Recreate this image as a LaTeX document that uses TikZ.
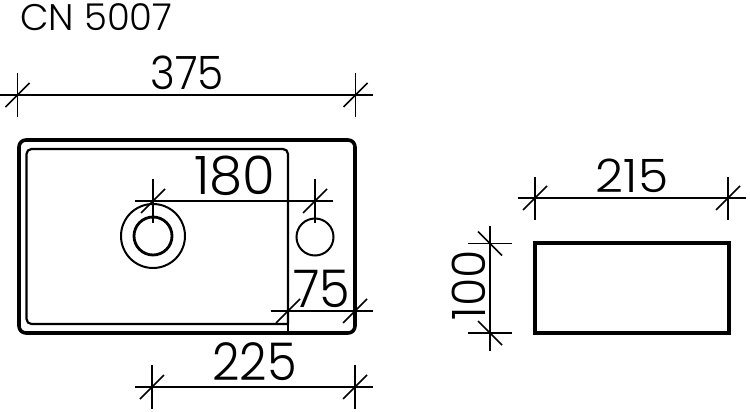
\documentclass[tikz,border=0pt]{standalone}
\usepackage{fontspec}
\setmainfont{Poppins Light}
\newcommand{\dimtext}[3]{\scalebox{#2}[1]{\fontsize{#1}{#1}\selectfont #3}}
\tikzset{
  dim/.style={line width=1.6pt,line cap=butt},
  outerwall/.style={line width=3.6pt,rounded corners=7pt},
  innerwall/.style={line width=2.2pt,rounded corners=5pt},
  lab/.style={inner sep=0pt,anchor=center},
  title/.style={inner sep=0pt,font=\fontsize{37}{37}\selectfont,anchor=west}
}
\begin{document}
\begin{tikzpicture}[x=1pt,y=-1pt]
\useasboundingbox (0,0) rectangle (750,412);
% plan
\node[draw,outerwall,minimum width=336pt,minimum height=193pt,inner sep=0pt] (body) at (187,236.5) {};
\draw[innerwall] (288,324) -- (26.5,324) -- (26.5,149) -- (288,149) -- (288,324);
\coordinate (wallA) at (288,320); \coordinate (wallB) at (288,333);
\draw[line width=2.2pt] (wallA) -- (wallB);
\node[draw,circle,line width=2pt,minimum size=64pt,inner sep=0pt] (drainO) at (153,236) {};
\node[draw,circle,line width=2.8pt,minimum size=38pt,inner sep=0pt] (drainI) at (153,236) {};
\node[draw,circle,line width=2pt,minimum size=37pt,inner sep=0pt] (tap) at (315,237) {};
% side view
\node[draw,line width=3.2pt,minimum width=194pt,minimum height=90pt,inner sep=0pt] (side) at (632,288) {};
% dim 375
\coordinate (a1) at (17.5,95); \coordinate (a2) at (355.5,95);
\draw[dim] (0,95) -- (373,95);
\foreach \c in {a1,a2}{\draw[dim] (\c)+(0,-22)--+(0,22); \draw[dim] (\c)+(-12,12)--+(12,-12);}
\node[lab] (t375) at (187,73) {\dimtext{46}{.92}{375}};
% dim 180
\coordinate (b1) at (153,201); \coordinate (b2) at (315,201);
\draw[dim] (135,201) -- (333,201);
\foreach \c in {b1,b2}{\draw[dim] (\c)+(0,-22)--+(0,22); \draw[dim] (\c)+(-12,12)--+(12,-12);}
\node[lab] (t180) at (235,176) {\dimtext{53}{1}{180}};
% dim 75
\coordinate (c1) at (288,311); \coordinate (c2) at (355,311);
\draw[dim] (270.5,311) -- (373,311);
\foreach \c in {c1,c2}{\draw[dim] (\c)+(-12,12)--+(12,-12);}
\node[lab] (t75) at (321.5,288.5) {\dimtext{52}{.95}{75}};
% dim 225
\coordinate (d1) at (152,387); \coordinate (d2) at (355,387);
\draw[dim] (135,387) -- (373,387);
\foreach \c in {d1,d2}{\draw[dim] (\c)+(0,-22)--+(0,22); \draw[dim] (\c)+(-12,12)--+(12,-12);}
\node[lab] (t225) at (254.5,361.5) {\dimtext{52}{.92}{225}};
% dim 215
\coordinate (e1) at (535,198); \coordinate (e2) at (728,198);
\draw[dim] (518,198) -- (746,198);
\foreach \c in {e1,e2}{\draw[dim] (\c)+(0,-21)--+(0,22); \draw[dim] (\c)+(-12,12)--+(12,-12);}
\node[lab] (t215) at (632,176) {\dimtext{46}{1.06}{215}};
% dim 100
\coordinate (f1) at (490,243.5); \coordinate (f2) at (490,333);
\draw[dim] (490,226) -- (490,351);
\foreach \c in {f1,f2}{\draw[dim] (\c)+(-22,0)--+(22,0); \draw[dim] (\c)+(-12,-12)--+(12,12);}
\node[lab,rotate=90] (t100) at (468.5,285) {\dimtext{46}{1}{100}};
% title
\node[title] (cn) at (20,17) {CN 5007};
\end{tikzpicture}
\end{document}
